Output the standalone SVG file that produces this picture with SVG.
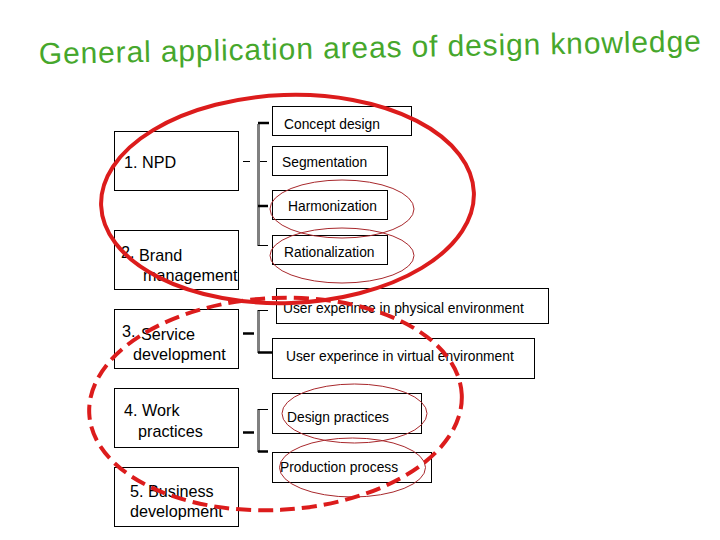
<svg xmlns="http://www.w3.org/2000/svg" width="720" height="540" viewBox="0 0 720 540">
<style>
.box{fill:#fff;stroke:#000;stroke-width:1}
.big{font-family:"Liberation Sans",Arial,sans-serif;font-size:16.2px;fill:#000}
.sm{font-family:"Liberation Sans",Arial,sans-serif;font-size:13.8px;fill:#000}
.title{font-family:"Liberation Sans",Arial,sans-serif;font-size:30px;fill:#46a72c}
.bar{stroke:#808080;stroke-width:3;fill:none}
.tick{stroke:#000;stroke-width:1;fill:none}
.tickb{stroke:#000;stroke-width:2.5;fill:none}
.thin{fill:none;stroke:#a8282c;stroke-width:1}
.solid{fill:none;stroke:#dc1c1c;stroke-width:4}
.dash{fill:none;stroke:#dc1c1c;stroke-width:4;stroke-dasharray:15 7}
</style>
<text class="title" x="39" y="64" textLength="662" lengthAdjust="spacing" transform="rotate(-1.1 39 64)">General application areas of design knowledge</text>

<g id="connectors">
<line class="bar" x1="258.5" y1="124" x2="258.5" y2="246"/>
<line class="tickb" x1="258" y1="123" x2="269" y2="123"/>
<line class="tick" x1="243" y1="161.5" x2="250" y2="161.5"/>
<line class="tick" x1="260" y1="161.5" x2="267" y2="161.5"/>
<line class="tickb" x1="258" y1="206" x2="268" y2="206"/>
<line class="tick" x1="258" y1="245.5" x2="268" y2="245.5"/>

<line class="bar" x1="258.5" y1="310" x2="258.5" y2="353"/>
<line class="tick" x1="258" y1="310.5" x2="268" y2="310.5"/>
<line class="tickb" x1="258" y1="352.5" x2="275" y2="352.5"/>
<line class="tickb" x1="243" y1="333.5" x2="254" y2="333.5"/>

<line class="bar" x1="258.5" y1="409" x2="258.5" y2="452"/>
<line class="tick" x1="258" y1="409.5" x2="268" y2="409.5"/>
<line class="tickb" x1="258" y1="451.5" x2="268" y2="451.5"/>
<line class="tickb" x1="243" y1="432.5" x2="254" y2="432.5"/>
</g>

<g id="npd"><rect class="box" x="114.5" y="131.5" width="124" height="59"/><text class="big" x="124" y="168">1. NPD</text></g>
<g id="brand"><rect class="box" x="114.5" y="230.5" width="124" height="59"/><text class="big" x="121" y="258">2.</text><text class="big" x="139" y="261">Brand</text><text class="big" x="143" y="281">management</text></g>
<g id="service"><rect class="box" x="114.5" y="309.5" width="124" height="59"/><text class="big" x="122" y="337">3.</text><text class="big" x="141" y="340">Service</text><text class="big" x="133" y="360">development</text></g>
<g id="work"><rect class="box" x="114.5" y="388.5" width="124" height="59"/><text class="big" x="124" y="416">4. Work</text><text class="big" x="138" y="437">practices</text></g>
<g id="business"><rect class="box" x="114.5" y="467.5" width="124" height="59"/><text class="big" x="130" y="497">5. Business</text><text class="big" x="130" y="517">development</text></g>

<g id="concept"><rect class="box" x="272.5" y="106.5" width="139" height="29"/><text class="sm" x="284" y="129">Concept design</text></g>
<g id="segmentation"><rect class="box" x="272.5" y="146.5" width="115" height="29"/><text class="sm" x="282" y="167">Segmentation</text></g>
<g id="harmonization"><rect class="box" x="272.5" y="190.5" width="115" height="29"/><text class="sm" x="288" y="211">Harmonization</text></g>
<g id="rationalization"><rect class="box" x="272.5" y="235.5" width="115" height="29"/><text class="sm" x="284" y="257">Rationalization</text></g>
<g id="uxphys"><rect class="box" x="276.5" y="288.5" width="272" height="35"/><text class="sm" x="283" y="313">User experince in physical environment</text></g>
<g id="uxvirt"><rect class="box" x="272.5" y="338.5" width="262" height="40"/><text class="sm" x="286" y="361">User experince in virtual environment</text></g>
<g id="designpr"><rect class="box" x="272.5" y="393.5" width="149" height="40"/><text class="sm" x="287" y="422">Design practices</text></g>
<g id="production"><rect class="box" x="272.5" y="452.5" width="159" height="30"/><text class="sm" x="280" y="472">Production process</text></g>

<g id="highlights">
<ellipse class="thin" cx="342" cy="209" rx="72" ry="29"/>
<ellipse class="thin" cx="342" cy="255.5" rx="72" ry="27.5"/>
<ellipse class="thin" cx="354.5" cy="413.5" rx="72.5" ry="29.5"/>
<ellipse class="thin" cx="352.5" cy="467.5" rx="73" ry="29.5"/>
<ellipse class="solid" cx="287.5" cy="199" rx="186.5" ry="104" transform="rotate(-2 287.5 199)"/>
<ellipse class="dash" cx="275.5" cy="404" rx="186.5" ry="106" transform="rotate(-3 275.5 404)"/>
</g>
</svg>
